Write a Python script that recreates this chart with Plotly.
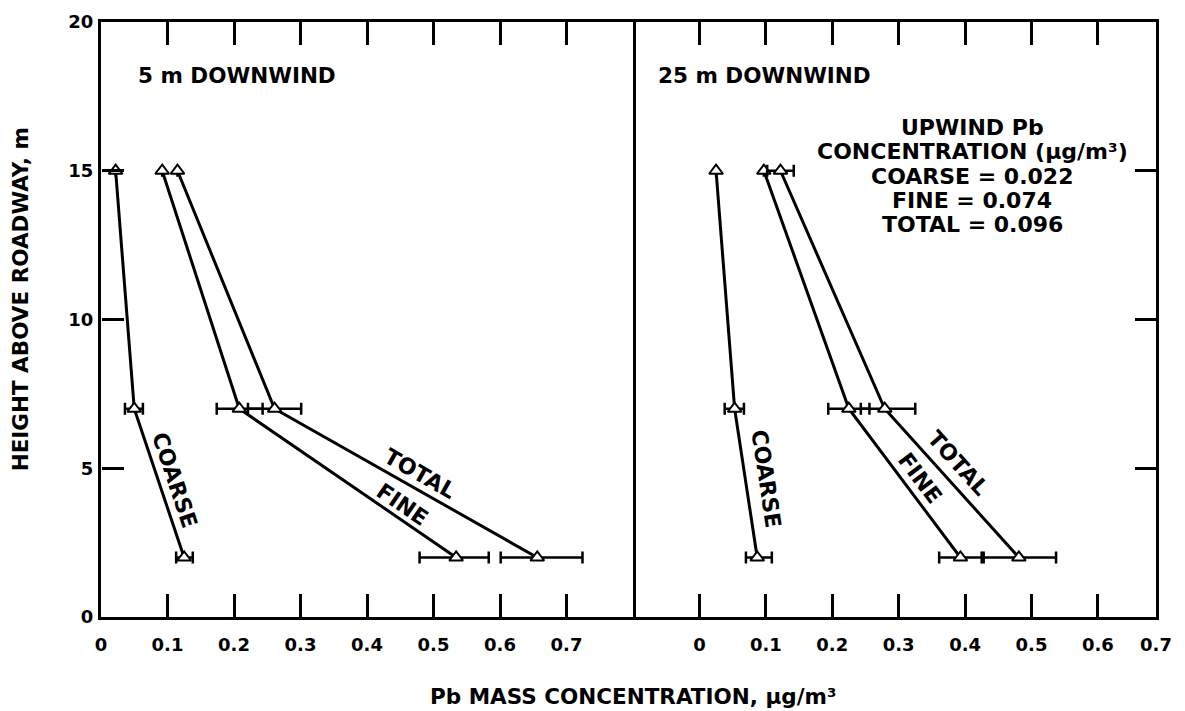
import plotly.graph_objects as go

# ---------------- data ----------------
heights = [15, 7, 2]

# 5 m downwind
coarse_5m = [0.022, 0.050, 0.125]
fine_5m = [0.092, 0.208, 0.534]
total_5m = [0.115, 0.261, 0.656]
coarse_5m_plus = [None, 0.013, 0.013]
coarse_5m_minus = [None, 0.014, 0.012]
fine_5m_plus = [None, 0.035, 0.049]
fine_5m_minus = [None, 0.034, 0.055]
total_5m_plus = [None, 0.040, 0.068]
total_5m_minus = [None, 0.040, 0.055]

# 25 m downwind
coarse_25m = [0.025, 0.053, 0.087]
fine_25m = [0.097, 0.225, 0.393]
total_25m = [0.122, 0.279, 0.481]
coarse_25m_plus = [None, 0.014, 0.022]
coarse_25m_minus = [None, 0.015, 0.017]
fine_25m_plus = [None, 0.031, 0.032]
fine_25m_minus = [None, 0.031, 0.032]
total_25m_plus = [0.020, 0.046, 0.056]
total_25m_minus = [0.020, 0.036, 0.053]

x_ticks_left = [0, 0.1, 0.2, 0.3, 0.4, 0.5, 0.6, 0.7]
x_ticks_right = [0, 0.1, 0.2, 0.3, 0.4, 0.5, 0.6, 0.6875]
x_ticktext_right = ["0", "0.1", "0.2", "0.3", "0.4", "0.5", "0.6", "0.7"]
x_inner_ticks_left = [0.1, 0.2, 0.3, 0.4, 0.5, 0.6, 0.7]
x_inner_ticks_right = [0, 0.1, 0.2, 0.3, 0.4, 0.5, 0.6]
y_ticks = [0, 5, 10, 15, 20]
y_inner_ticks = [5, 10, 15]

upwind_lines = ["UPWIND Pb", "CONCENTRATION (μg/m³)", "COARSE = 0.022",
                "FINE = 0.074", "TOTAL = 0.096"]

FONT = "DejaVu Sans"
split = 0.5043
X_LEFT_RANGE = [0, 0.8]
X_RIGHT_RANGE = [-0.1, 0.6875]
Y_RANGE = [0, 20]

fig = go.Figure()


def add_series(xs, plus, minus, xa, ya):
    fig.add_trace(go.Scatter(
        x=xs, y=heights, xaxis=xa, yaxis=ya, mode="lines+markers",
        line=dict(color="black", width=3),
        marker=dict(symbol="triangle-up", size=12, color="white",
                    line=dict(color="black", width=2)),
        error_x=dict(type="data", symmetric=False, array=plus, arrayminus=minus,
                     color="black", thickness=2.5, width=6),
        showlegend=False, cliponaxis=False,
    ))


add_series(coarse_5m, coarse_5m_plus, coarse_5m_minus, "x", "y")
add_series(fine_5m, fine_5m_plus, fine_5m_minus, "x", "y")
add_series(total_5m, total_5m_plus, total_5m_minus, "x", "y")
add_series(coarse_25m, coarse_25m_plus, coarse_25m_minus, "x2", "y2")
add_series(fine_25m, fine_25m_plus, fine_25m_minus, "x2", "y2")
add_series(total_25m, total_25m_plus, total_25m_minus, "x2", "y2")

# empty traces so that the tick-only overlay axes are registered
for xa, ya in [("x3", "y"), ("x4", "y2"), ("x", "y3")]:
    fig.add_trace(go.Scatter(x=[], y=[], xaxis=xa, yaxis=ya, mode="markers",
                             showlegend=False, hoverinfo="skip"))

no_grid = dict(showgrid=False, zeroline=False)
line_style = dict(showline=True, linecolor="black", linewidth=3)
tickfont = dict(family=FONT, size=18, weight="bold", color="black")
# label-carrying axes: transparent outside ticks only push labels away from the line
label_ticks = dict(ticks="outside", tickcolor="rgba(0,0,0,0)", tickwidth=1)
inner_ticks = dict(ticks="inside", tickcolor="black", tickwidth=3,
                   showticklabels=False, showline=False)

fig.update_layout(
    width=1185, height=711,
    margin=dict(l=101, r=29, t=22, b=94),
    paper_bgcolor="white", plot_bgcolor="white",
    font=dict(family=FONT, size=18, color="black", weight="bold"),
    showlegend=False,
    xaxis=dict(domain=[0, split], range=X_LEFT_RANGE, anchor="y",
               tickvals=x_ticks_left, ticktext=[f"{v:g}" for v in x_ticks_left],
               ticklen=9, mirror=True, tickfont=tickfont,
               **label_ticks, **line_style, **no_grid),
    xaxis2=dict(domain=[split, 1], range=X_RIGHT_RANGE, anchor="y2",
                tickvals=x_ticks_right, ticktext=x_ticktext_right,
                ticklen=9, mirror=True, tickfont=tickfont,
                **label_ticks, **line_style, **no_grid),
    xaxis3=dict(overlaying="x", anchor="y", domain=[0, split], range=X_LEFT_RANGE,
                side="bottom", tickvals=x_inner_ticks_left, ticklen=23,
                mirror="ticks", **inner_ticks, **no_grid),
    xaxis4=dict(overlaying="x2", anchor="y2", domain=[split, 1], range=X_RIGHT_RANGE,
                side="bottom", tickvals=x_inner_ticks_right, ticklen=23,
                mirror="ticks", **inner_ticks, **no_grid),
    yaxis=dict(domain=[0, 1], range=Y_RANGE, anchor="x",
               tickvals=y_ticks, ticktext=[str(v) for v in y_ticks],
               ticklen=1, mirror=True, tickfont=tickfont,
               **label_ticks, **line_style, **no_grid),
    yaxis2=dict(domain=[0, 1], range=Y_RANGE, anchor="x2", side="right",
                tickvals=y_inner_ticks, ticks="inside", ticklen=21, tickwidth=3,
                tickcolor="black", showticklabels=False, mirror=False,
                **line_style, **no_grid),
    # tick-only axis on the left frame edge; its outside ticks point into the plot
    yaxis3=dict(overlaying="y", anchor="free", position=0, side="right", range=Y_RANGE,
                tickvals=y_inner_ticks, ticks="outside", ticklen=22, tickwidth=3,
                tickcolor="black", showticklabels=False, showline=False, **no_grid),
)

ann = []
# panel titles
ann.append(dict(text="5 m DOWNWIND", xref="x", yref="y", x=0.0525, y=18.2,
                xanchor="left", yanchor="middle", showarrow=False,
                font=dict(family=FONT, size=21.5, weight="bold")))
ann.append(dict(text="25 m DOWNWIND", xref="x2", yref="y2", x=-0.065, y=18.2,
                xanchor="left", yanchor="middle", showarrow=False,
                font=dict(family=FONT, size=21.5, weight="bold")))
# upwind box, one annotation per line
up_y = [16.47, 15.65, 14.82, 14.0, 13.18]
for t, yv in zip(upwind_lines, up_y):
    ann.append(dict(text=t, xref="x2", yref="y2", x=0.411, y=yv,
                    xanchor="center", yanchor="middle", showarrow=False,
                    font=dict(family=FONT, size=22, weight="bold")))
# series labels
labels = [
    ("COARSE", "x", "y", 0.110, 4.61, 71.5),
    ("TOTAL", "x", "y", 0.479, 4.83, 29.6),
    ("FINE", "x", "y", 0.453, 3.78, 34.5),
    ("COARSE", "x2", "y2", 0.0997, 4.64, 81.4),
    ("FINE", "x2", "y2", 0.332, 4.64, 53.1),
    ("TOTAL", "x2", "y2", 0.390, 5.17, 47.9),
]
for t, xr, yr, xv, yv, ang in labels:
    ann.append(dict(text=t, xref=xr, yref=yr, x=xv, y=yv, textangle=ang,
                    showarrow=False, xanchor="center", yanchor="middle",
                    font=dict(family=FONT, size=22, weight="bold")))
# axis titles
ann.append(dict(text="HEIGHT ABOVE ROADWAY, m", xref="paper", yref="paper",
                x=-0.0763, y=0.533, textangle=-90, showarrow=False,
                xanchor="center", yanchor="middle",
                font=dict(family=FONT, size=21.5, weight="bold")))
ann.append(dict(text="Pb MASS CONCENTRATION, μg/m³", xref="paper", yref="paper",
                x=split, y=-0.134, showarrow=False, xanchor="center", yanchor="middle",
                font=dict(family=FONT, size=21.5, weight="bold")))
fig.update_layout(annotations=ann)

fig.write_html("out.html")
